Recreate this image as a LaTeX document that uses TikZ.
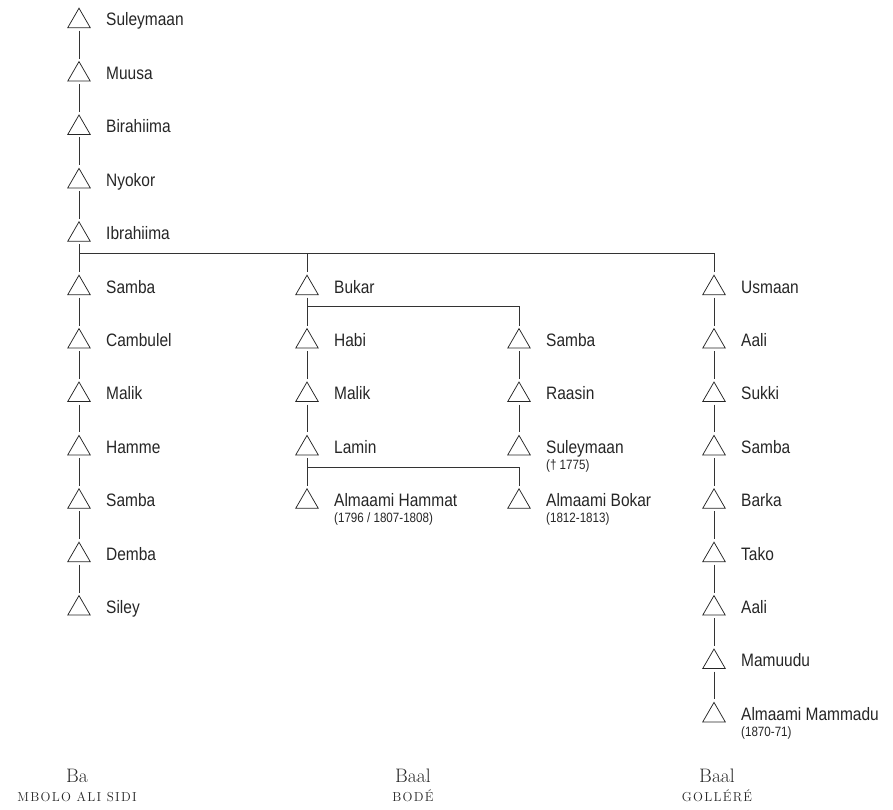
\documentclass[tikz,border=0pt]{standalone}
\usepackage{fontspec}
\newfontfamily\namefont[FakeStretch=0.86]{Liberation Sans}
\newfontfamily\clanfont[LetterSpace=10]{Latin Modern Roman}
\usetikzlibrary{positioning}
\usetikzlibrary{shapes.geometric}

\tikzset{
  tri/.style={draw=black!85, regular polygon, regular polygon sides=3,
    minimum size=26pt, inner sep=0pt, outer sep=0pt, line width=0.75pt},
  who/.style={anchor=base west, inner sep=0pt, text=black!85,
    font=\namefont\fontsize{18}{20}\selectfont},
  yrs/.style={anchor=base west, inner sep=0pt, text=black!85,
    font=\namefont\fontsize{13.5}{15}\selectfont},
  link/.style={draw=black!80, line width=0.7pt, shorten <=3pt, shorten >=3pt},
  fork/.style={draw=black!80, line width=0.7pt, shorten >=3pt},
  clan/.style={anchor=base, text=black!85, font=\fontsize{19.5}{22}\selectfont},
  clansub/.style={anchor=base, text=black!85, font=\clanfont\fontsize{13}{15}\selectfont},
}
% triangle + name, #3 = generation row
\newcommand{\person}[4]{%
  \node[tri] (#1) at (#2,{21.2+53.4*#3}) {};
  \node[who] (#1-name) at ({#2+27},{26+53.4*#3}) {#4};
}

\begin{document}
\begin{tikzpicture}[x=1pt,y=-1pt]
  \useasboundingbox (0,0) rectangle (893,810);

  % Ba
  \person{suleymaan}{79}{0}{Suleymaan}
  \person{muusa}{79}{1}{Muusa}
  \person{birahiima}{79}{2}{Birahiima}
  \person{nyokor}{79}{3}{Nyokor}
  \person{ibrahiima}{79}{4}{Ibrahiima}
  \person{samba-a}{79}{5}{Samba}
  \person{cambulel}{79}{6}{Cambulel}
  \person{malik-a}{79}{7}{Malik}
  \person{hamme}{79}{8}{Hamme}
  \person{samba-b}{79}{9}{Samba}
  \person{demba}{79}{10}{Demba}
  \person{siley}{79}{11}{Siley}

  % Baal bode
  \person{bukar}{307}{5}{Bukar}
  \person{habi}{307}{6}{Habi}
  \person{malik-b}{307}{7}{Malik}
  \person{lamin}{307}{8}{Lamin}
  \person{hammat}{307}{9}{Almaami Hammat}
  \node[yrs] (hammat-yrs) at ([yshift=-16pt]hammat-name.base west) {(1796 / 1807-1808)};

  \person{samba-c}{519}{6}{Samba}
  \person{raasin}{519}{7}{Raasin}
  \person{suleymaan-b}{519}{8}{Suleymaan}
  \node[yrs] (suleymaan-b-yrs) at ([yshift=-16pt]suleymaan-b-name.base west) {(† 1775)};
  \person{bokar}{519}{9}{Almaami Bokar}
  \node[yrs] (bokar-yrs) at ([yshift=-16pt]bokar-name.base west) {(1812-1813)};

  % Baal gollere
  \person{usmaan}{714}{5}{Usmaan}
  \person{aali-a}{714}{6}{Aali}
  \person{sukki}{714}{7}{Sukki}
  \person{samba-d}{714}{8}{Samba}
  \person{barka}{714}{9}{Barka}
  \person{tako}{714}{10}{Tako}
  \person{aali-b}{714}{11}{Aali}
  \person{mamuudu}{714}{12}{Mamuudu}
  \person{mammadu}{714}{13}{Almaami Mammadu}
  \node[yrs] (mammadu-yrs) at ([yshift=-16pt]mammadu-name.base west) {(1870-71)};

  % descent lines
  \foreach \a/\b in {suleymaan/muusa, muusa/birahiima, birahiima/nyokor,
      nyokor/ibrahiima, ibrahiima/samba-a, samba-a/cambulel, cambulel/malik-a,
      malik-a/hamme, hamme/samba-b, samba-b/demba, demba/siley,
      bukar/habi, habi/malik-b, malik-b/lamin, lamin/hammat,
      samba-c/raasin, raasin/suleymaan-b,
      usmaan/aali-a, aali-a/sukki, sukki/samba-d, samba-d/barka, barka/tako,
      tako/aali-b, aali-b/mamuudu, mamuudu/mammadu}
    \draw[link] (\a) -- (\b);

  % branching
  \coordinate[below=12pt of ibrahiima] (fork-ibr);
  \coordinate[below=12pt of bukar] (fork-bukar);
  \coordinate[below=12pt of lamin] (fork-lamin);
  \draw[fork] (fork-ibr) -| (bukar.north);
  \draw[fork] (fork-ibr) -| (usmaan.north);
  \draw[fork] (fork-bukar) -| (samba-c.north);
  \draw[fork] (fork-lamin) -| (bokar.north);

  % lineage names
  \node[clan] (ba) at (77,782) {Ba};
  \node[clansub] (ba-sub) at (77,801) {MBOLO ALI SIDI};
  \node[clan] (bode) at (413,782) {Baal};
  \node[clansub] (bode-sub) at (413,801) {BODÉ};
  \node[clan] (gollere) at (717,782) {Baal};
  \node[clansub] (gollere-sub) at (717,801) {GOLLÉRÉ};
\end{tikzpicture}
\end{document}
